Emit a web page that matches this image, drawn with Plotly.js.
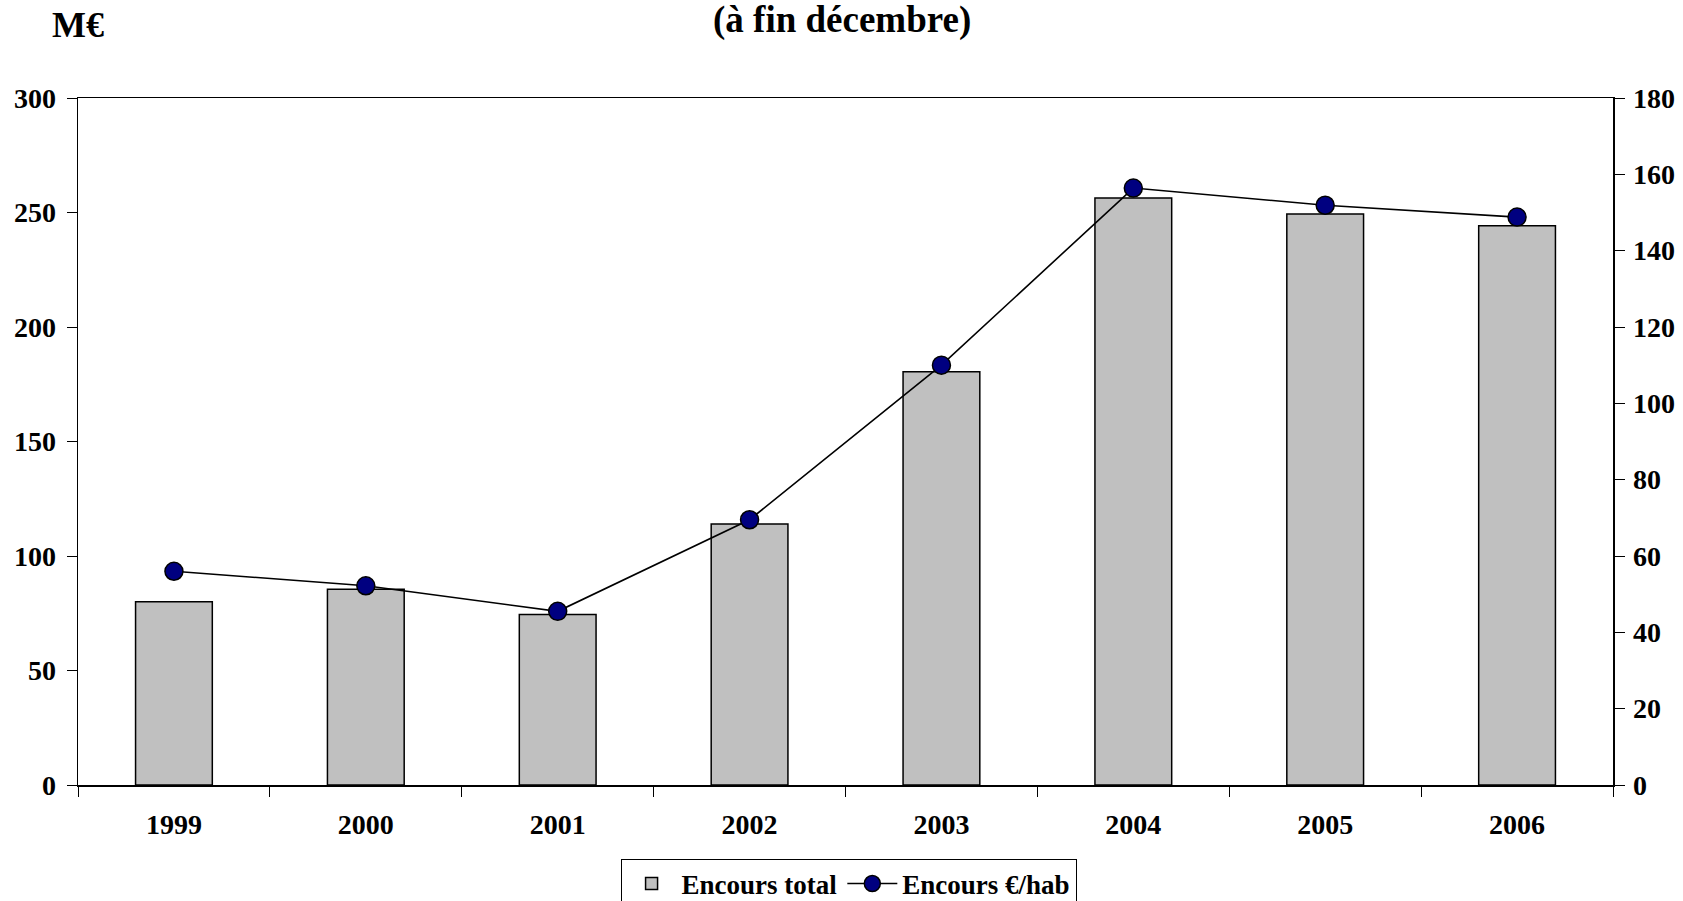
<!DOCTYPE html>
<html>
<head>
<meta charset="utf-8">
<script src="https://cdn.plot.ly/plotly-3.0.1.min.js"></script>
<style>
html,body{margin:0;padding:0;background:#fff;}
#chart{width:1683px;height:901px;}
</style>
</head>
<body>
<div id="chart"></div>
<script>
var years = ["1999","2000","2001","2002","2003","2004","2005","2006"];
var encoursTotal = [80, 85.5, 74.5, 114, 180.5, 256.3, 249.3, 244.2];
var encoursHab = [56, 52.2, 45.5, 69.5, 110, 156.4, 151.9, 148.8];
var leftTicks = [0, 50, 100, 150, 200, 250, 300];
var rightTicks = [0, 20, 40, 60, 80, 100, 120, 140, 160, 180];

var FONT = "Liberation Serif, Times New Roman, serif";

var traces = [
  {
    type: "bar",
    name: "Encours total",
    x: years,
    y: encoursTotal,
    width: 0.4,
    marker: {color: "#c0c0c0", line: {color: "#000000", width: 1.5}},
    yaxis: "y"
  },
  {
    type: "scatter",
    mode: "lines+markers",
    name: "Encours €/hab",
    x: years,
    y: encoursHab,
    yaxis: "y2",
    line: {color: "#000000", width: 1.6},
    marker: {color: "#000080", size: 18, line: {color: "#000000", width: 1.5}}
  }
];

var layout = {
  width: 1683,
  height: 901,
  margin: {l: 78, r: 70, t: 98, b: 116, autoexpand: false},
  paper_bgcolor: "#ffffff",
  plot_bgcolor: "#ffffff",
  font: {family: FONT, color: "#000000", size: 28, weight: "bold"},
  showlegend: true,
  legend: {
    orientation: "h",
    x: 0.502, xanchor: "center",
    y: -0.107, yanchor: "top",
    bordercolor: "#000000", borderwidth: 1,
    font: {family: FONT, size: 27, weight: "bold", color: "#000000"},
    itemwidth: 50,
    tracegroupgap: 0
  },
  xaxis: {
    type: "category",
    range: [-0.5, 7.5],
    tickson: "boundaries",
    ticks: "outside",
    ticklen: 10,
    tickcolor: "#000000",
    showline: true,
    linecolor: "#000000",
    linewidth: 1.5,
    mirror: true,
    showgrid: false,
    zeroline: false,
    ticklabelstandoff: 14,
    tickfont: {family: FONT, size: 28, weight: "bold", color: "#000000"}
  },
  yaxis: {
    range: [0, 300],
    tickvals: leftTicks,
    ticks: "outside",
    ticklen: 10,
    tickcolor: "#000000",
    showline: true,
    linecolor: "#000000",
    linewidth: 1.5,
    showgrid: false,
    zeroline: false,
    ticklabelstandoff: 5,
    tickfont: {family: FONT, size: 28, weight: "bold", color: "#000000"}
  },
  yaxis2: {
    range: [0, 180],
    tickvals: rightTicks,
    overlaying: "y",
    side: "right",
    ticks: "outside",
    ticklen: 10,
    tickcolor: "#000000",
    showline: true,
    linecolor: "#000000",
    linewidth: 1.5,
    showgrid: false,
    zeroline: false,
    ticklabelstandoff: 3,
    tickfont: {family: FONT, size: 28, weight: "bold", color: "#000000"}
  },
  annotations: [
    {
      text: "(à fin décembre)",
      xref: "paper", yref: "paper",
      x: 0.498, xanchor: "center",
      y: 1.114, yanchor: "middle",
      showarrow: false,
      font: {family: FONT, size: 37, weight: "bold", color: "#000000"}
    },
    {
      text: "M€",
      xref: "paper", yref: "paper",
      x: 0, xanchor: "center",
      y: 1.106, yanchor: "middle",
      showarrow: false,
      font: {family: FONT, size: 36, weight: "bold", color: "#000000"}
    }
  ]
};

Plotly.newPlot("chart", traces, layout, {displayModeBar: false, staticPlot: true});
</script>
</body>
</html>
